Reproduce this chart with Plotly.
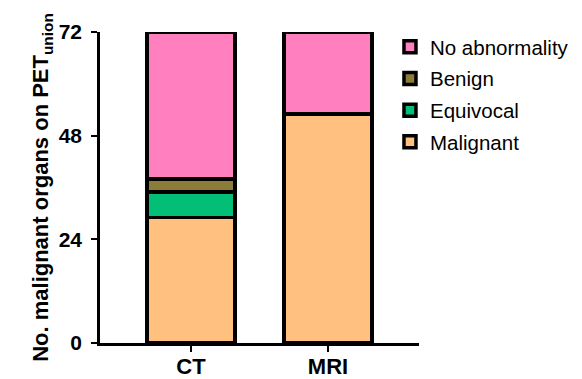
import plotly.graph_objects as go

categories = ["CT", "MRI"]
malignant = [29, 53]
equivocal = [6, 0]
benign = [3, 0]
no_abnormality = [34, 19]
y_ticks = [0, 24, 48, 72]

series = [
    ("Malignant", malignant, "#FFC080", 4),
    ("Equivocal", equivocal, "#03BE77", 3),
    ("Benign", benign, "#8C7B39", 2),
    ("No abnormality", no_abnormality, "#FF7FBF", 1),
]

fig = go.Figure()
for name, vals, color, rank in series:
    fig.add_trace(go.Bar(
        x=categories, y=vals, name=name, width=0.642, legendgroup=name,
        legendrank=rank,
        marker=dict(color=color, line=dict(color="black", width=3.5)),
    ))

font_family = "Liberation Sans, Arial, sans-serif"
# the page body adds an 8px offset, so the figure is 8px smaller
fig.update_layout(
    barmode="stack",
    width=574, height=371,
    margin=dict(l=92, r=163, t=24, b=36, autoexpand=False),
    plot_bgcolor="white", paper_bgcolor="white",
    font=dict(family=font_family, color="black"),
    showlegend=True,
    legend=dict(
        traceorder="grouped",
        tracegroupgap=2,
        x=0.909, xanchor="left", y=1.016, yanchor="top",
        font=dict(size=20.5, family=font_family, color="black"),
        bgcolor="rgba(0,0,0,0)",
    ),
    xaxis=dict(
        range=[-0.664, 1.664],
        showline=True, linecolor="black", linewidth=2.5,
        ticks="outside", ticklen=6, tickwidth=2, tickcolor="black",
        tickfont=dict(size=22, family=font_family, weight="bold"),
        ticklabelstandoff=-4,
        showgrid=False, zeroline=False, automargin=False,
    ),
    yaxis=dict(
        range=[0, 72],
        tickvals=y_ticks, ticktext=[str(v) for v in y_ticks],
        showline=True, linecolor="black", linewidth=2.5,
        ticks="outside", ticklen=6, tickwidth=2, tickcolor="black",
        tickfont=dict(size=21, family=font_family, weight="bold"),
        ticklabelstandoff=5,
        showgrid=False, zeroline=False, automargin=False,
        title=dict(
            text="No. malignant organs on PET<sub>union</sub>",
            font=dict(size=22, family=font_family, weight="bold"),
            standoff=4,
        ),
    ),
)

fig.write_html("out.html")
